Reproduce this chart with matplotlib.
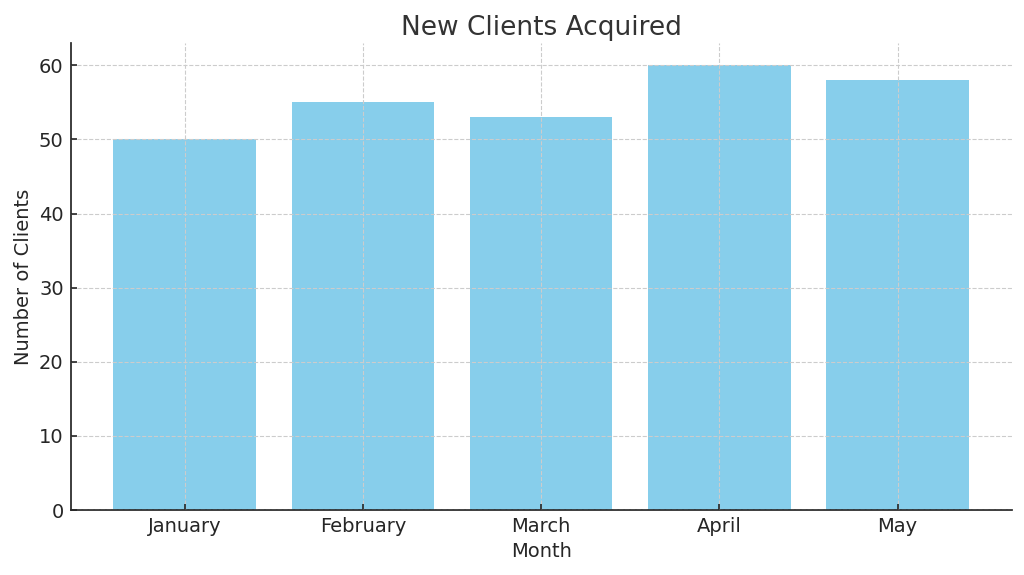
import matplotlib
matplotlib.use("Agg")
import matplotlib.pyplot as plt

months = ["January", "February", "March", "April", "May"]
new_clients = [50, 55, 53, 60, 58]

fig = plt.figure(figsize=(10.24, 5.75), dpi=100)
ax = fig.add_axes([0.069, 0.113, 0.919, 0.812])

ax.bar(months, new_clients, color="skyblue", width=0.8)
ax.grid(True, linestyle="--", color="#cccccc", linewidth=0.8)
ax.set_axisbelow(False)
for b in ax.patches:
    b.set_zorder(1)

ax.set_title("New Clients Acquired", fontsize=19, color="#333333")
ax.set_xlabel("Month", fontsize=14, color="#262626", labelpad=4)
ax.set_ylabel("Number of Clients", fontsize=14, color="#262626", labelpad=4)
ax.tick_params(labelsize=14, colors="#262626", direction="in", length=4, width=1.2, pad=5)
for s in ["top", "right"]:
    ax.spines[s].set_visible(False)
for s in ["left", "bottom"]:
    ax.spines[s].set_color("#262626")
    ax.spines[s].set_linewidth(1.25)

fig.savefig("out.png", dpi=100)
